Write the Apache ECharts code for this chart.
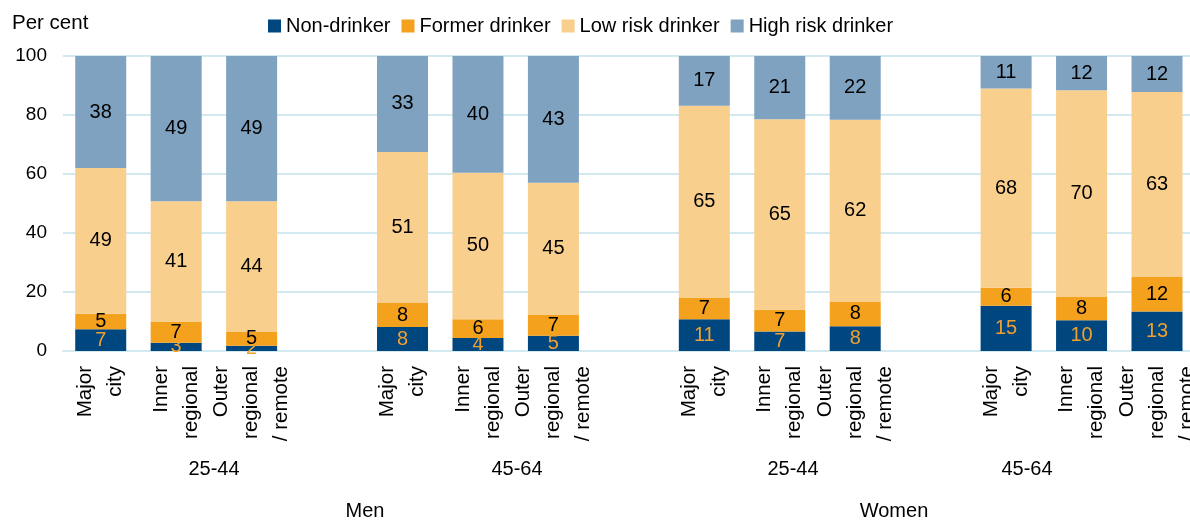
<!DOCTYPE html>
<html>
<head>
<meta charset="utf-8">
<style>
  html, body { margin: 0; padding: 0; background: #fff; overflow: hidden; }
  #chart { width: 1202px; height: 522px; }
</style>
<script src="https://cdn.jsdelivr.net/npm/echarts@6/dist/echarts.min.js"></script>
</head>
<body>
<div id="chart"></div>
<script>
// Category slots (blank slots separate the groups)
const categories = [
  'Major\ncity', 'Inner\nregional', 'Outer\nregional\n/ remote', '',
  'Major\ncity', 'Inner\nregional', 'Outer\nregional\n/ remote', '',
  'Major\ncity', 'Inner\nregional', 'Outer\nregional\n/ remote', '',
  'Major\ncity', 'Inner\nregional', 'Outer\nregional\n/ remote'
];
const ageGroups = ['25-44', '45-64', '25-44', '45-64'];
const sexGroups = ['Men', 'Women'];
const seriesNames = ['Non-drinker', 'Former drinker', 'Low risk drinker', 'High risk drinker'];

const nonDrinker = [7.4, 2.8, 1.8, null, 8.1, 4.4, 5.2, null, 10.8, 6.6, 8.4, null, 15.3, 10.4, 13.4];
const formerDrinker = [5.2, 7.0, 4.6, null, 8.2, 6.4, 7.2, null, 7.2, 7.4, 8.4, null, 6.1, 7.9, 11.7];
const lowRiskDrinker = [49.4, 41.0, 44.4, null, 51.2, 49.6, 44.6, null, 65.1, 64.6, 61.6, null, 67.6, 70.1, 62.7];
const highRiskDrinker = [38.0, 49.2, 49.2, null, 32.5, 39.6, 43.0, null, 16.9, 21.4, 21.6, null, 11.0, 11.6, 12.2];

const yTicks = [0, 20, 40, 60, 80, 100];

const FONT = '"Liberation Sans", Arial, sans-serif';
const colors = ['#00467F', '#F4A11D', '#F9CF8E', '#7FA2C0'];
const labelColors = ['#F0A030', '#000', '#000', '#000'];
const seriesData = [nonDrinker, formerDrinker, lowRiskDrinker, highRiskDrinker];

const chart = echarts.init(document.getElementById('chart'), null, { renderer: 'canvas' });

const series = seriesNames.map((name, i) => ({
  name: name,
  type: 'bar',
  stack: 'total',
  barWidth: 51,
  data: seriesData[i],
  itemStyle: { color: colors[i] },
  label: {
    show: true,
    position: 'inside',
    fontFamily: FONT,
    fontSize: 20,
    color: labelColors[i],
    formatter: p => (p.value == null ? '' : String(Math.round(p.value)))
  },
  emphasis: { disabled: true }
}));

const groupX = [214, 517, 793, 1027];
const sexX = [365, 894];
const graphics = [];
ageGroups.forEach((g, i) => graphics.push({
  type: 'text', x: groupX[i], y: 459,
  style: { text: g, font: '20px ' + FONT, fill: '#000', textAlign: 'center' }
}));
sexGroups.forEach((g, i) => graphics.push({
  type: 'text', x: sexX[i], y: 501,
  style: { text: g, font: '20px ' + FONT, fill: '#000', textAlign: 'center' }
}));

chart.setOption({
  animation: false,
  textStyle: { fontFamily: FONT },
  title: {
    text: 'Per cent',
    left: 7, top: 8,
    textStyle: { fontFamily: FONT, fontSize: 20.5, fontWeight: 'normal', color: '#000' }
  },
  legend: {
    data: seriesNames,
    left: 263, top: 11,
    icon: 'rect',
    itemWidth: 13, itemHeight: 13,
    itemGap: 11,
    textStyle: { fontFamily: FONT, fontSize: 20, color: '#000' },
    selectedMode: false
  },
  grid: { left: 63, top: 56, width: 1132, height: 295, containLabel: false },
  xAxis: {
    type: 'category',
    data: categories,
    axisLine: { show: true, lineStyle: { color: '#D3E9F0', width: 2 } },
    axisTick: { show: false },
    axisLabel: {
      interval: 0,
      rotate: 90,
      margin: 15,
      fontFamily: FONT,
      fontSize: 20.5,
      lineHeight: 30,
      color: '#000'
    }
  },
  yAxis: {
    type: 'value',
    min: yTicks[0], max: yTicks[yTicks.length - 1], interval: 20,
    axisLine: { show: false },
    axisTick: { show: false },
    splitLine: { lineStyle: { color: '#D3E9F0', width: 2 } },
    axisLabel: { fontFamily: FONT, fontSize: 19, color: '#000', margin: 16 }
  },
  series: series,
  graphic: graphics
});
</script>
</body>
</html>
